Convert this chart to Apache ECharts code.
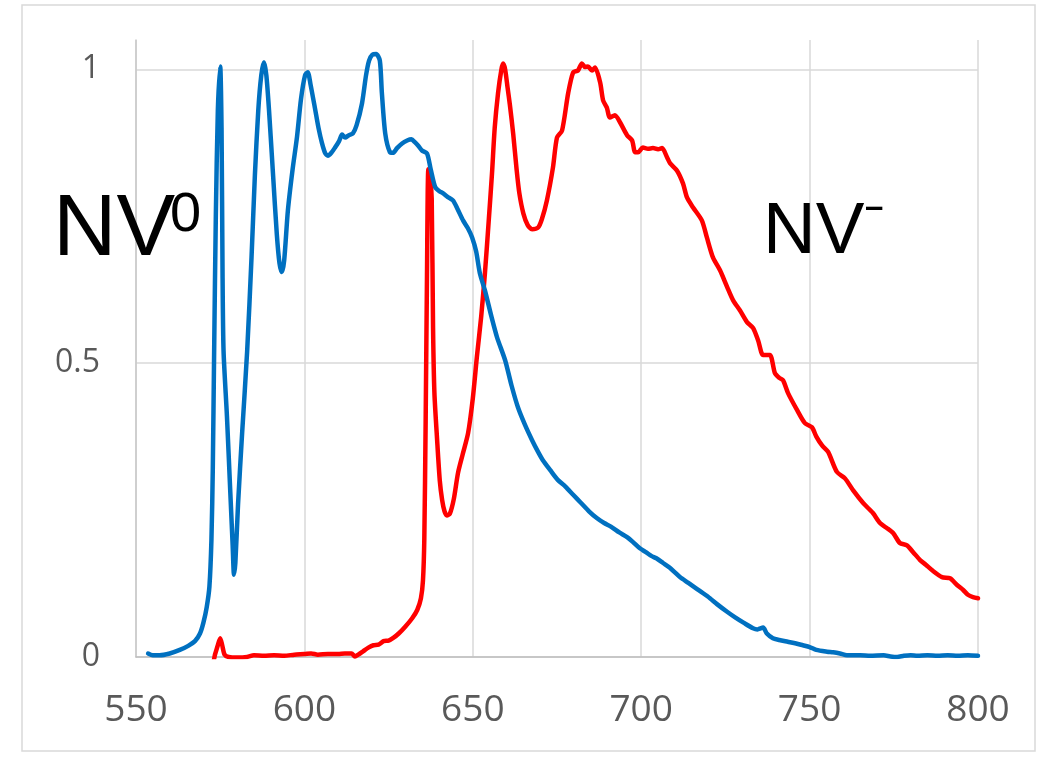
<!DOCTYPE html>
<html>
<head>
<meta charset="utf-8">
<script src="https://cdn.jsdelivr.net/npm/echarts@6/dist/echarts.min.js"></script>
<style>
html,body{margin:0;padding:0;background:#fff;}
#chart{width:1040px;height:760px;}
</style>
</head>
<body>
<div id="chart"></div>
<script>
// NV0 (blue) spectrum: wavelength (nm) and normalized intensity
const nv0Wavelength = [553.6,555,557,560,563,565.5,567.5,569,570,571,571.8,572.4,572.8,573.2,573.7,574.3,575,575.4,575.7,576,577,578,578.7,579.1,579.5,580.3,581.5,583,584.3,585.3,586.3,587.2,588,588.7,589.5,590.7,591.8,592.6,593.3,594,595.1,596.5,597.8,599,600.2,601,601.8,603.1,604.2,605.2,606.2,607,608,609.1,610.3,611.2,612.1,613.2,614.4,615.5,617.1,618.3,619.2,620.2,621.3,622.4,623,624,625.4,626.3,627.5,629,630.5,631.8,632.8,633.8,634.9,636.4,637.5,638.8,640,641.2,642.5,644.1,645.5,647.1,648.5,649.8,651,652.1,653.6,655.5,657.2,659.6,661.5,663.4,665.5,667.6,669.3,670.8,673,675.3,677.5,679.8,682,684.5,686.9,689,691,693.5,695.8,697.5,699.6,701.5,703,704.5,706.5,708.5,710,711.5,714,716.5,718.5,720.4,722.5,725.5,728,730.5,733.2,734.5,736.2,737.3,739.1,741,743.5,746,748,750,752,755.2,757,759,761.1,765,768,772,774,776,778,780,782,785,788,791,794,797,800];
const nv0Intensity = [0.006,0.003,0.003,0.006,0.012,0.019,0.027,0.04,0.058,0.085,0.12,0.2,0.32,0.52,0.75,0.93,1.005,0.9,0.65,0.52,0.41,0.28,0.19,0.14,0.16,0.26,0.38,0.52,0.68,0.82,0.93,0.99,1.012,0.99,0.93,0.82,0.72,0.67,0.655,0.675,0.76,0.83,0.885,0.95,0.99,0.995,0.975,0.935,0.9,0.875,0.857,0.853,0.858,0.867,0.878,0.889,0.884,0.888,0.891,0.905,0.942,0.99,1.015,1.025,1.026,1.015,0.96,0.891,0.859,0.858,0.866,0.874,0.879,0.881,0.876,0.87,0.862,0.857,0.83,0.8,0.793,0.789,0.783,0.777,0.762,0.743,0.73,0.714,0.69,0.653,0.624,0.58,0.544,0.505,0.462,0.425,0.395,0.369,0.35,0.335,0.318,0.301,0.29,0.276,0.263,0.248,0.236,0.228,0.222,0.212,0.204,0.196,0.185,0.178,0.172,0.168,0.16,0.152,0.144,0.136,0.126,0.116,0.108,0.1,0.09,0.077,0.067,0.058,0.049,0.047,0.05,0.04,0.032,0.029,0.026,0.023,0.02,0.017,0.012,0.009,0.008,0.006,0.003,0.003,0.002,0.003,0.001,0.0,0.002,0.003,0.002,0.003,0.002,0.003,0.002,0.003,0.002];

// NV- (red) spectrum
const nvmWavelength = [553,560,566,572.5,573.5,574.3,575,575.6,576.3,577.5,580,583,585,588,591,594,597,600,602,604,607,610,612,614,615,616,617.5,619,620.5,622,623.5,625,626.5,628,630,632,633.5,634.6,635.2,635.6,636,636.4,636.8,637.3,637.8,638.2,638.6,639.4,640.2,640.9,641.6,642.3,643.2,644.4,645.6,647,648.6,650,651.2,652.5,653.6,654.7,655.7,656.5,657.5,658.5,659,659.6,660.3,661,662,663,663.8,665,666.3,667.6,669.4,670.5,672,673.8,675,676.5,678.3,679.8,681.2,682.4,683.3,684.2,685.4,686.3,687.8,688.7,689.8,690.7,692.2,693.7,695.8,697.3,698.2,699.1,700.5,702,703.5,705,706.2,707.7,708.6,710.6,712.4,713.6,715.4,718,719.5,721.3,723.4,725.5,727.3,729.3,731.4,733.2,734.7,736.2,738.2,739.7,741,742.1,743.6,746.3,748.6,750.7,752,753.7,755.5,758.1,760.5,763,765.9,768.8,770.9,772.8,774.8,776.8,778.9,780.8,782.8,784.5,786.3,789.3,791.7,793.7,795.6,797,798.5,800];
const nvmIntensity = [-0.015,-0.015,-0.015,-0.012,0.005,0.02,0.032,0.02,0.004,0.0,-0.001,0.0,0.003,0.002,0.003,0.002,0.004,0.005,0.006,0.004,0.005,0.005,0.006,0.006,0.001,0.004,0.01,0.016,0.02,0.021,0.027,0.028,0.033,0.04,0.052,0.066,0.08,0.1,0.13,0.2,0.4,0.65,0.83,0.82,0.78,0.56,0.45,0.37,0.3,0.267,0.248,0.241,0.244,0.27,0.313,0.345,0.381,0.44,0.51,0.58,0.653,0.74,0.823,0.9,0.96,1.0,1.01,1.0,0.97,0.94,0.89,0.83,0.79,0.755,0.735,0.728,0.731,0.745,0.777,0.833,0.884,0.896,0.959,0.995,0.998,1.01,1.004,1.005,0.998,1.003,0.978,0.947,0.935,0.918,0.922,0.91,0.888,0.879,0.859,0.859,0.867,0.865,0.866,0.864,0.866,0.85,0.84,0.828,0.806,0.782,0.765,0.743,0.714,0.68,0.658,0.63,0.607,0.59,0.57,0.56,0.539,0.514,0.514,0.483,0.475,0.471,0.449,0.42,0.398,0.391,0.375,0.36,0.349,0.315,0.304,0.283,0.262,0.245,0.228,0.22,0.211,0.194,0.19,0.178,0.165,0.157,0.148,0.136,0.134,0.123,0.114,0.106,0.102,0.1];

const xTicks = [550, 600, 650, 700, 750, 800];
const yTicks = [0, 0.5, 1];

const zip = (xs, ys) => xs.map((x, i) => [x, ys[i]]);

const chart = echarts.init(document.getElementById('chart'), null, {renderer: 'canvas'});
chart.setOption({
  animation: false,
  backgroundColor: '#ffffff',
  grid: {left: 136, right: 62, top: 40, bottom: 103, containLabel: false},
  xAxis: {
    type: 'value',
    min: xTicks[0], max: xTicks[xTicks.length - 1], interval: 50,
    axisLine: {show: true, onZero: false, lineStyle: {color: '#bfbfbf', width: 1.5}},
    axisTick: {show: false},
    axisLabel: {color: '#595959', fontSize: 37, fontFamily: 'Open Sans', margin: 35},
    splitLine: {show: true, lineStyle: {color: '#d9d9d9', width: 1.5}}
  },
  yAxis: {
    type: 'value',
    min: 0, max: 1.05, interval: 0.5,
    axisLine: {show: true, lineStyle: {color: '#c8c8c8', width: 1.5}},
    axisTick: {show: false},
    axisLabel: {
      color: '#595959', fontSize: 32, fontFamily: 'Open Sans', margin: 36,
      showMaxLabel: false,
      formatter: v => (yTicks.indexOf(v) >= 0 ? String(v) : '')
    },
    splitLine: {show: true, showMaxLine: false, lineStyle: {color: '#d9d9d9', width: 1.5}}
  },
  series: [
    {
      name: 'NV0', type: 'line', data: zip(nv0Wavelength, nv0Intensity),
      showSymbol: false, symbol: 'none', smooth: 0.25, clip: true,
      lineStyle: {color: '#0070C0', width: 4.5, join: 'round', cap: 'round'}, z: 3
    },
    {
      name: 'NV-', type: 'line', data: zip(nvmWavelength, nvmIntensity),
      showSymbol: false, symbol: 'none', smooth: 0.25, clip: true,
      lineStyle: {color: '#FF0000', width: 4.5, join: 'round', cap: 'round'}, z: 2
    }
  ],
  graphic: [
    {type: 'rect', shape: {x: 22, y: 5, width: 1013, height: 746}, style: {fill: 'none', stroke: '#d9d9d9', lineWidth: 1.5}, silent: true, z: -10},
    {type: 'text', x: 53, y: 231, style: {text: 'NV', font: '88px "Liberation Sans"', fill: '#000', textAlign: 'left', textVerticalAlign: 'middle'}, z: 10},
    {type: 'text', x: 170, y: 216, style: {text: '0', font: '56px "Liberation Sans"', fill: '#000', textAlign: 'left', textVerticalAlign: 'middle'}, z: 10},
    {type: 'text', x: 763, y: 232.5, style: {text: 'NV', font: '73px "Liberation Sans"', fill: '#000', textAlign: 'left', textVerticalAlign: 'middle'}, z: 10},
    {type: 'text', x: 865, y: 208, style: {text: '\u2013', font: 'bold 33px "Liberation Sans"', fill: '#000', textAlign: 'left', textVerticalAlign: 'middle'}, z: 10}
  ]
});
</script>
</body>
</html>
